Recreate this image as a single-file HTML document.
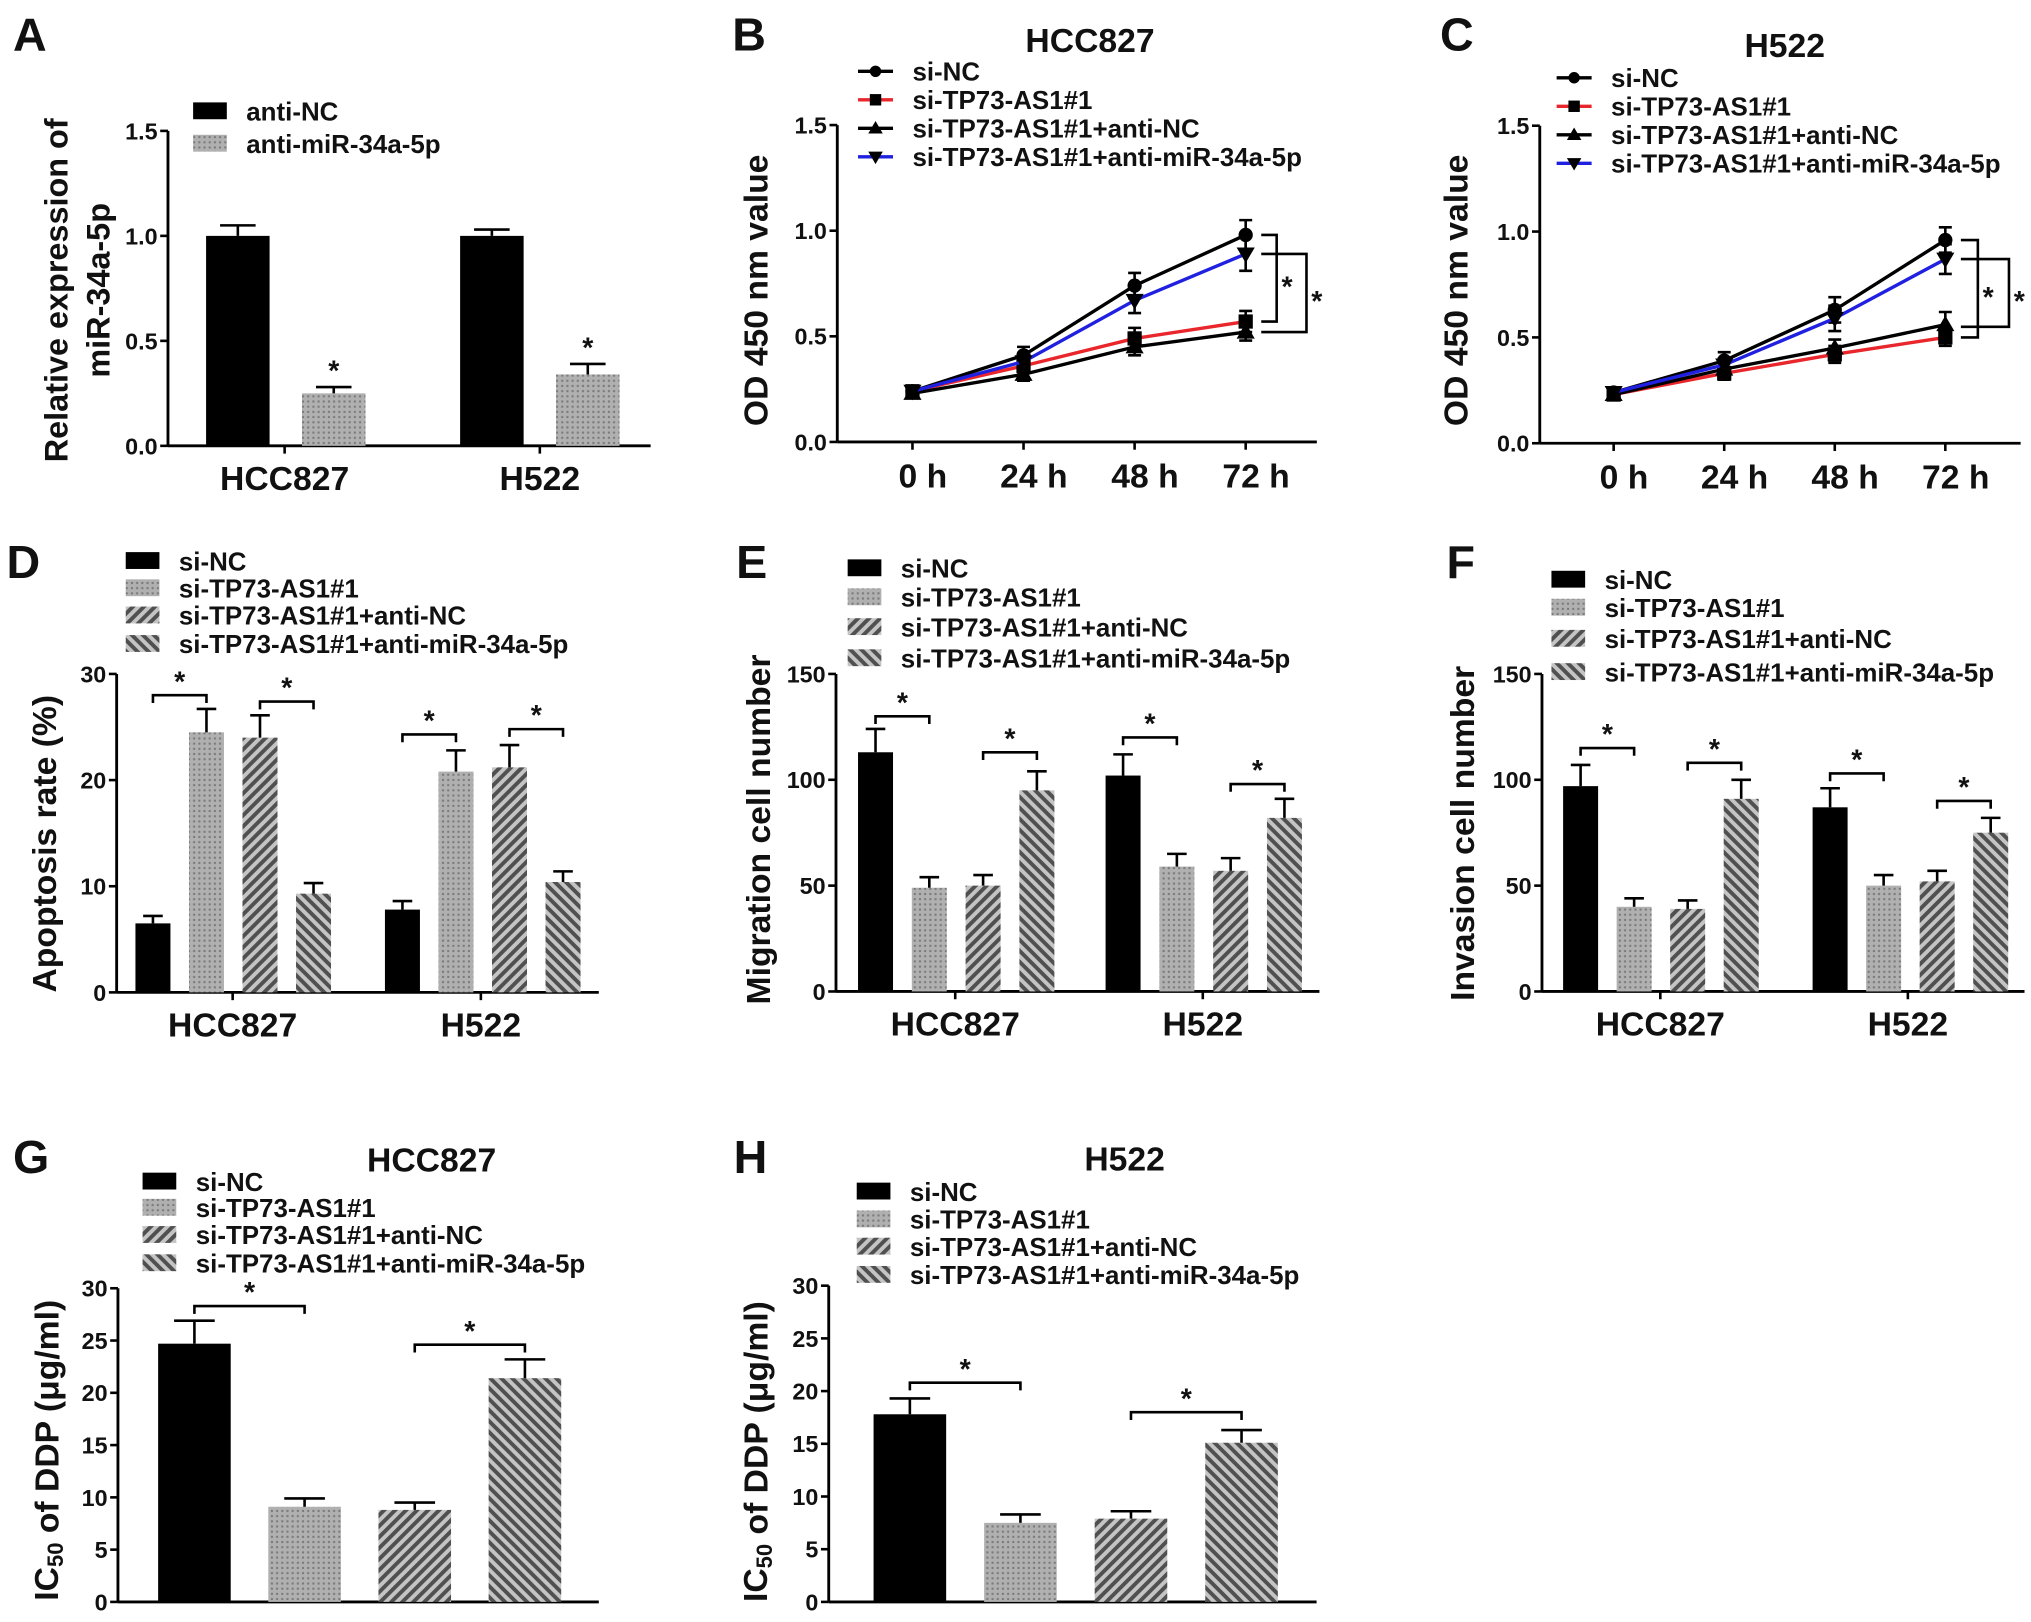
<!DOCTYPE html>
<html><head><meta charset="utf-8"><style>
html,body{margin:0;padding:0;background:#fff;}
svg{display:block;}
text{font-family:"Liberation Sans",Arial,sans-serif;font-weight:bold;fill:#111;}
</style></head><body>
<svg id="fig" xmlns="http://www.w3.org/2000/svg" width="2031" height="1622" viewBox="0 0 1567 1251.5" preserveAspectRatio="none">
<defs>
<pattern id="dots" patternUnits="userSpaceOnUse" width="4" height="4"><rect width="4" height="4" fill="#b0b0b0"/><rect x="1" y="1" width="1.6" height="1.6" fill="#7a7a7a"/></pattern>
<pattern id="hatchA" patternUnits="userSpaceOnUse" width="6" height="6" patternTransform="rotate(45)"><rect width="6" height="6" fill="#c4c4c4"/><rect width="3" height="6" fill="#505050"/></pattern>
<pattern id="hatchB" patternUnits="userSpaceOnUse" width="6" height="6" patternTransform="rotate(-45)"><rect width="6" height="6" fill="#c4c4c4"/><rect width="3" height="6" fill="#505050"/></pattern>
</defs>
</svg>
<script>
// ---------- data ----------
const groups = ["HCC827","H522"];
const barSeries4 = ["si-NC","si-TP73-AS1#1","si-TP73-AS1#1+anti-NC","si-TP73-AS1#1+anti-miR-34a-5p"];
const aSeries = ["anti-NC","anti-miR-34a-5p"];
const aValues = [[1.0,0.25],[1.0,0.34]];
const aErrors = [[0.05,0.03],[0.03,0.05]];
const aTicks = ["0.0","0.5","1.0","1.5"];
const dValues = [[6.5,24.5,24.0,9.3],[7.8,20.8,21.2,10.4]];
const dErrors = [[0.7,2.2,2.1,1.0],[0.8,2.0,2.1,1.0]];
const dBrackets = [[28.0,27.4],[24.3,24.8]];
const dTicks = ["0","10","20","30"];
const eValues = [[113,49,50,95],[102,59,57,82]];
const eErrors = [[11,5,5,9],[10,6,6,9]];
const eBrackets = [[130,113],[120,98]];
const efTicks = ["0","50","100","150"];
const fValues = [[97,40,39,91],[87,50,52,75]];
const fErrors = [[10,4,4,9],[9,5,5,7]];
const fBrackets = [[115,108],[103,90]];
const gValues = [24.7,9.1,8.8,21.4];
const gErrors = [2.2,0.8,0.7,1.8];
const gBrackets = [28.3,24.6];
const hValues = [17.8,7.5,7.9,15.1];
const hErrors = [1.5,0.8,0.7,1.2];
const hBrackets = [20.8,18.0];
const ghTicks = ["0","5","10","15","20","25","30"];
const timeLabels = ["0 h","24 h","48 h","72 h"];
const lineSeries = ["si-NC","si-TP73-AS1#1","si-TP73-AS1#1+anti-NC","si-TP73-AS1#1+anti-miR-34a-5p"];
const bValues = [[0.24,0.41,0.74,0.98],[0.24,0.36,0.49,0.57],[0.23,0.32,0.45,0.52],[0.24,0.38,0.67,0.89]];
const bErrors = [[0.02,0.04,0.06,0.07],[0.02,0.03,0.05,0.05],[0.02,0.03,0.04,0.04],[0.02,0.03,0.06,0.08]];
const cValues = [[0.24,0.39,0.63,0.96],[0.23,0.33,0.42,0.50],[0.23,0.35,0.45,0.56],[0.24,0.37,0.59,0.87]];
const cErrors = [[0.02,0.04,0.06,0.06],[0.02,0.03,0.04,0.04],[0.02,0.03,0.04,0.06],[0.02,0.03,0.06,0.07]];
const bBrackets = [[0.98,0.57],[0.89,0.52]];
const cBrackets = [[0.96,0.50],[0.87,0.55]];
// ---------- helpers ----------
const svg=document.getElementById('fig');
const NS="http://www.w3.org/2000/svg";
function el(tag,attrs,parent,txt){const e=document.createElementNS(NS,tag);for(const k in attrs)e.setAttribute(k,attrs[k]);if(txt!==undefined)e.textContent=txt;(parent||svg).appendChild(e);return e;}
function grp(name){const g=el('g',{});return g;}
const fills=["#000","url(#dots)","url(#hatchA)","url(#hatchB)"];
const LEG=20;
function label(t,x,y){const e=el('text',{x:x,y:y,'font-size':36},svg,t);}
function yTitle(g,t,x,y,size){const e=el('text',{x:x,y:y,'font-size':size||26,'text-anchor':'middle','dominant-baseline':'central',transform:`rotate(-90 ${x} ${y})`},g,t);return e;}
function yAxis(g,x0,yT,yB,ticks,max){
  el('line',{x1:x0,y1:yT,x2:x0,y2:yB,stroke:'#000','stroke-width':2.2},g);
  ticks.forEach((t,i)=>{const v=i*max/(ticks.length-1);const y=yB-(yB-yT)*v/max;
    el('line',{x1:x0-6,y1:y,x2:x0,y2:y,stroke:'#000','stroke-width':2},g);
    const tx=el('text',{x:x0-8,y:y+6.5,'font-size':18,'text-anchor':'end',fill:'#222'},g,t);
    });
}
function star(g,x,y){const s=el('text',{x:x,y:y,'font-size':22,'text-anchor':'middle'},g,'*');}
function barLegend(g,names,x,ys,size,fl){names.forEach((n,i)=>{
  const r=el('rect',{x:x,y:ys[i]-7,width:26,height:13,fill:fl[i]},g);
  
  const t=el('text',{x:x+41,y:ys[i]+7,'font-size':size||LEG},g,n);
  });}
function barPanel(o){
  const g=grp(o.name);
  const sy=v=>o.yB-(o.yB-o.yT)*v/o.max;
  yAxis(g,o.x0,o.yT,o.yB,o.ticks,o.max);
  el('line',{x1:o.x0,y1:o.yB,x2:o.x1,y2:o.yB,stroke:'#000','stroke-width':2.2},g);
  o.vals.forEach((gv,gi)=>{
    gv.forEach((v,i)=>{
      const x=o.first+gi*o.gstep+i*o.pitch;const y=sy(v);
      const b=el('rect',{x:x,y:y,width:o.bw,height:o.yB-y,fill:fills[o.fillIdx[i]]},g);
      
      
      const cx=x+o.bw/2;const ye=sy(v+o.errs[gi][i]);
      el('line',{x1:cx,y1:y,x2:cx,y2:ye,stroke:'#000','stroke-width':2},g);
      el('line',{x1:cx-o.bw*0.28,y1:ye,x2:cx+o.bw*0.28,y2:ye,stroke:'#000','stroke-width':2},g);
    });
    if(o.brk){o.brk[gi].forEach((bv,pi)=>{
      const i1=pi*2,i2=pi*2+1;
      const xa=o.first+gi*o.gstep+i1*o.pitch+o.bw/2, xb=o.first+gi*o.gstep+i2*o.pitch+o.bw/2;
      const y=sy(bv);
      const p=el('path',{d:`M${xa} ${y+6}V${y}H${xb}V${y+6}`,fill:'none',stroke:'#000','stroke-width':2},g);
      
      star(g,(xa+xb)/2,y-3);
    });}
  });
  if(o.cats){o.cats.forEach((c,gi)=>{
    const cx=o.catX[gi];
    el('line',{x1:cx,y1:o.yB,x2:cx,y2:o.yB+6,stroke:'#000','stroke-width':2},g);
    const t=el('text',{x:cx,y:o.yB+34,'font-size':26,'text-anchor':'middle'},g,c);
    });}
  return g;
}
// ---------- Panel A ----------
label('A',10,39);
{const g=barPanel({name:'panel-a-chart',x0:129.6,x1:502,yT:101,yB:344,max:1.5,ticks:aTicks,vals:aValues,errs:aErrors,first:159,gstep:196,pitch:74,bw:49,fillIdx:[0,1],cats:groups,catX:[219.6,416.5]});
 yTitle(g,'Relative expression of',43.6,224,25);yTitle(g,'miR-34a-5p',76,224,25);
 barLegend(g,aSeries,149,[86,111],LEG,[fills[0],fills[1]]);
 aValues.forEach((gv,gi)=>{const v=gv[1]+aErrors[gi][1];star(g,159+gi*196+74+24.5,344-243*v/1.5-5);});}
// ---------- Panel D ----------
label('D',5,446);
{const g=barPanel({name:'panel-d-chart',x0:90,x1:462,yT:520,yB:765.7,max:30,ticks:dTicks,vals:dValues,errs:dErrors,brk:dBrackets,first:104.5,gstep:192.5,pitch:41.3,bw:27,fillIdx:[0,1,2,3],cats:groups,catX:[179.5,371]});
 yTitle(g,'Apoptosis rate (%)',35,651);barLegend(g,barSeries4,97,[433,454,475,497],LEG,fills);}
// ---------- Panel E ----------
label('E',568,446);
{const g=barPanel({name:'panel-e-chart',x0:645,x1:1018,yT:520,yB:765,max:150,ticks:efTicks,vals:eValues,errs:eErrors,brk:eBrackets,first:662,gstep:191,pitch:41.5,bw:27,fillIdx:[0,1,2,3],cats:groups,catX:[737,928]});
 yTitle(g,'Migration cell number',586,640);barLegend(g,barSeries4,654,[438.6,461,484,508],LEG,fills);}
// ---------- Panel F ----------
label('F',1116,446);
{const g=barPanel({name:'panel-f-chart',x0:1189.7,x1:1562,yT:520,yB:765,max:150,ticks:efTicks,vals:fValues,errs:fErrors,brk:fBrackets,first:1206,gstep:192.5,pitch:41.3,bw:27,fillIdx:[0,1,2,3],cats:groups,catX:[1281,1472]});
 yTitle(g,'Invasion cell number',1129,643);barLegend(g,barSeries4,1197,[447.4,469,493,518.7],LEG,fills);}
// ---------- Panel G ----------
label('G',10,905);
{const g=barPanel({name:'panel-g-chart',x0:91,x1:462,yT:994,yB:1236,max:30,ticks:ghTicks,vals:[gValues],errs:[gErrors],brk:[gBrackets],first:122,gstep:0,pitch:85,bw:56,fillIdx:[0,1,2,3]});
 const yt=yTitle(g,'',36.6,1119);yt.innerHTML='IC<tspan font-size="17" dy="6">50</tspan><tspan dy="-6"> of DDP (μg/ml)</tspan>';
 const tt=el('text',{x:333,y:904,'font-size':26,'text-anchor':'middle'},g,'HCC827');
 barLegend(g,barSeries4,110,[911.8,932,953,974.8],LEG,fills);}
// ---------- Panel H ----------
label('H',566,905);
{const g=barPanel({name:'panel-h-chart',x0:639.4,x1:1015.8,yT:992,yB:1236,max:30,ticks:ghTicks,vals:[hValues],errs:[hErrors],brk:[hBrackets],first:674,gstep:0,pitch:85.3,bw:56,fillIdx:[0,1,2,3]});
 const yt=yTitle(g,'',583.6,1120);yt.innerHTML='IC<tspan font-size="17" dy="6">50</tspan><tspan dy="-6"> of DDP (μg/ml)</tspan>';
 const tt=el('text',{x:867.7,y:903,'font-size':26,'text-anchor':'middle'},g,'H522');
 barLegend(g,barSeries4,661,[919.5,941,962,983.8],LEG,fills);}
// ---------- line panels ----------
const lineColors=['#000','#e8262b','#000','#2020e0'];
function marker(g,k,x,y){
  if(k===0) return el('circle',{cx:x,cy:y,r:5.5,fill:'#000'},g);
  if(k===1) return el('rect',{x:x-5.5,y:y-5.5,width:11,height:11,fill:'#000'},g);
  if(k===2) return el('path',{d:`M${x} ${y-7}L${x+7} ${y+5}L${x-7} ${y+5}Z`,fill:'#000'},g);
  return el('path',{d:`M${x} ${y+7}L${x+7} ${y-5}L${x-7} ${y-5}Z`,fill:'#000'},g);
}
function linePanel(o){
  const g=grp(o.name);
  const sy=v=>o.yB-(o.yB-o.yT)*v/1.5;
  const sx=i=>o.xt0+i*o.pitch;
  yAxis(g,o.x0,o.yT,o.yB,aTicks,1.5);
  el('line',{x1:o.x0,y1:o.yB,x2:o.x1,y2:o.yB,stroke:'#000','stroke-width':2.2},g);
  timeLabels.forEach((t,i)=>{el('line',{x1:sx(i),y1:o.yB,x2:sx(i),y2:o.yB+6,stroke:'#000','stroke-width':2},g);
    const tx=el('text',{x:sx(i)+8,y:o.yB+35,'font-size':26,'text-anchor':'middle'},g,t);});
  o.vals.forEach((s,k)=>{
    const d=s.map((v,i)=>(i?'L':'M')+sx(i)+' '+sy(v)).join('');
    const p=el('path',{d:d,fill:'none',stroke:lineColors[k],'stroke-width':2.6},g);
    
    s.forEach((v,i)=>{const e=o.errs[k][i];
      el('path',{d:`M${sx(i)} ${sy(v-e)}V${sy(v+e)}M${sx(i)-5} ${sy(v-e)}h10M${sx(i)-5} ${sy(v+e)}h10`,stroke:'#000','stroke-width':2,fill:'none'},g);
      const m=marker(g,k,sx(i),sy(v));});
  });
  o.brk.forEach((b,j)=>{const bx=o.brkX[j];const xa=sx(3)+12;
    const p=el('path',{d:`M${xa} ${sy(b[0])}H${bx}V${sy(b[1])}H${xa}`,fill:'none',stroke:'#000','stroke-width':2},g);
    
    star(g,bx+8,(sy(b[0])+sy(b[1]))/2+14);});
  lineSeries.forEach((n,k)=>{const y=o.legY[k];
    el('line',{x1:o.legX,y1:y,x2:o.legX+27,y2:y,stroke:lineColors[k],'stroke-width':2.6},g);
    marker(g,k,o.legX+13.5,y).setAttribute('transform',`translate(${o.legX+13.5} ${y}) scale(0.8) translate(${-(o.legX+13.5)} ${-y})`);
    const t=el('text',{x:o.legX+42,y:y+7,'font-size':LEG},g,n);});
  const tt=el('text',{x:o.titleX,y:o.titleY,'font-size':26,'text-anchor':'middle'},g,o.title);
  yTitle(g,'OD 450 nm value',o.ytX,224);
}
label('B',565,39);
linePanel({name:'panel-b-chart',x0:646,x1:1016,yT:96.5,yB:341,xt0:704,pitch:85.7,vals:bValues,errs:bErrors,brk:bBrackets,brkX:[985,1008],legX:662,legY:[55,77,99,121],title:'HCC827',titleX:841,titleY:40,ytX:584});
label('C',1111,39);
linePanel({name:'panel-c-chart',x0:1188,x1:1559,yT:97,yB:342,xt0:1245,pitch:85.3,vals:cValues,errs:cErrors,brk:cBrackets,brkX:[1526,1550],legX:1201,legY:[60,82,104,126],title:'H522',titleX:1377,titleY:44,ytX:1124});
</script>
</body></html>
